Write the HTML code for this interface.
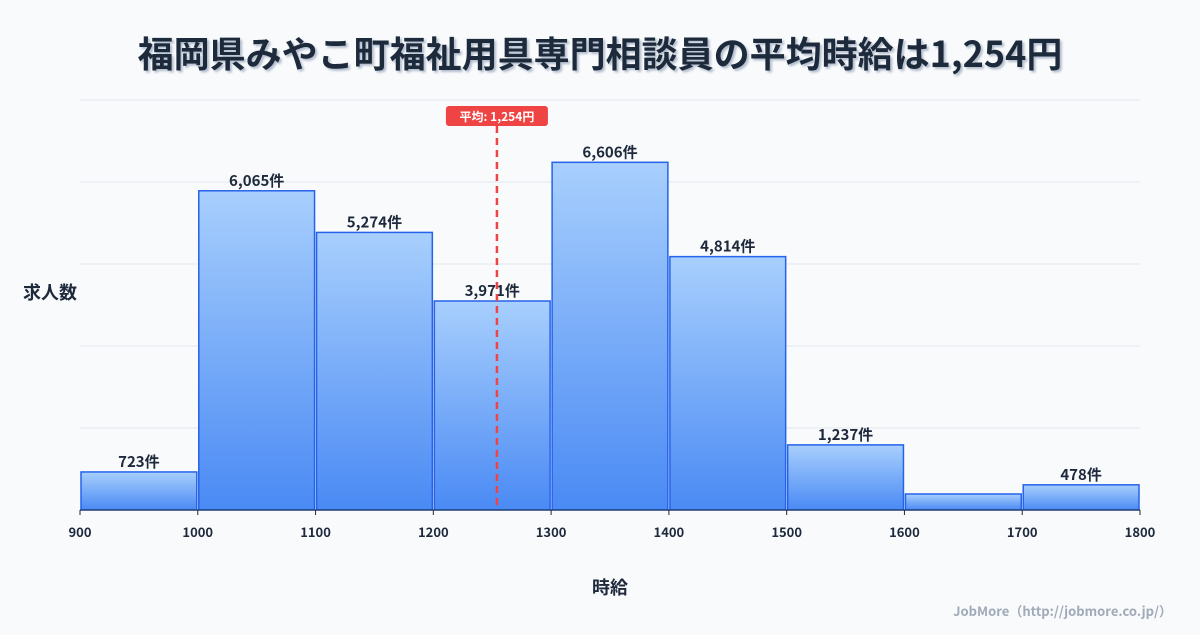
<!DOCTYPE html>
<html><head><meta charset="utf-8"><style>
body{margin:0;width:1200px;height:630px;background:#f8fafc;font-family:"Noto Sans CJK JP","Liberation Sans",sans-serif;overflow:hidden}
</style></head><body>
<svg id="c" width="1200" height="630" xmlns="http://www.w3.org/2000/svg">
<defs>
<linearGradient id="g" x1="0" y1="0" x2="0" y2="1"><stop offset="0" stop-color="#a8cffd"/><stop offset="1" stop-color="#4a8af4"/></linearGradient>
<filter id="sh"><feDropShadow dx="2" dy="2" stdDeviation="1" flood-color="#94a3b8" flood-opacity="0.7"/></filter>
</defs>
<text x="600" y="67" text-anchor="middle" font-size="36" font-weight="bold" fill="#1e293b" filter="url(#sh)">福岡県みやこ町福祉用具専門相談員の平均時給は1,254円</text>
<text x="50" y="299" text-anchor="middle" font-size="18" font-weight="bold" fill="#1e293b">求人数</text>
<text x="610" y="594" text-anchor="middle" font-size="18" font-weight="bold" fill="#1e293b">時給</text>
<text x="1172" y="616" text-anchor="end" font-size="13" font-weight="bold" fill="#a0aab8">JobMore（http://jobmore.co.jp/）</text>
<g id="grid"></g><g id="bars"></g><g id="ticks"></g><g id="mean"></g>
</svg>
<script>
const binStarts=[900,1000,1100,1200,1300,1400,1500,1600,1700];
const counts=[723,6065,5274,3971,6606,4814,1237,304,478];
const labels=["723件","6,065件","5,274件","3,971件","6,606件","4,814件","1,237件","","478件"];
const xTicks=[900,1000,1100,1200,1300,1400,1500,1600,1700,1800];
const meanValue=1254;
const meanLabel="平均: 1,254円";
const yMax=7790;
const NS="http://www.w3.org/2000/svg";
const x0=80,x1=1140,yb=510,yt=100;
const xs=v=>x0+(v-900)/(1800-900)*(x1-x0);
const ys=v=>yb-v/yMax*(yb-yt);
function mk(t,a,p){const e=document.createElementNS(NS,t);for(const k in a)e.setAttribute(k,a[k]);p.appendChild(e);return e;}
const grid=document.getElementById('grid');
for(let i=0;i<=5;i++){const y=yb-i*(yb-yt)/5;
const l=mk('line',{x1:x0,x2:x1,y1:y,y2:y,stroke:'#e2e8f0','stroke-width':1},grid);

}
const bars=document.getElementById('bars');
binStarts.forEach((b,i)=>{const xa=xs(b)+1,xb=xs(b+100)-1,y=ys(counts[i]);
const r=mk('rect',{x:xa,y:y,width:xb-xa,height:yb-y,fill:'url(#g)',stroke:'#2563eb','stroke-width':1.5},bars);


if(labels[i]){const t=mk('text',{x:(xa+xb)/2,y:y-5,'text-anchor':'middle','font-size':15,'font-weight':'bold',fill:'#1e293b'},bars);t.textContent=labels[i];

}});
const tk=document.getElementById('ticks');
mk('line',{x1:x0,x2:x1,y1:yb,y2:yb,stroke:'#1e293b','stroke-width':1},tk);
xTicks.forEach(v=>{const x=xs(v);mk('line',{x1:x,x2:x,y1:yb,y2:yb+5,stroke:'#1e293b'},tk);
const t=mk('text',{x:x,y:537,'text-anchor':'middle','font-size':13,'font-weight':'bold',fill:'#1e293b'},tk);t.textContent=v;

});
const m=document.getElementById('mean');const mx=xs(meanValue);
const ml=mk('line',{x1:mx,x2:mx,y1:126,y2:yb,stroke:'#ef4444','stroke-width':2.5,'stroke-dasharray':'7,5'},m);


const mr=mk('rect',{x:mx-51,y:106,width:102,height:20,rx:3,fill:'#ef4444'},m);


const mt=mk('text',{x:mx,y:121,'text-anchor':'middle','font-size':12,'font-weight':'bold',fill:'#fff'},m);mt.textContent=meanLabel;


</script>
</body></html>
